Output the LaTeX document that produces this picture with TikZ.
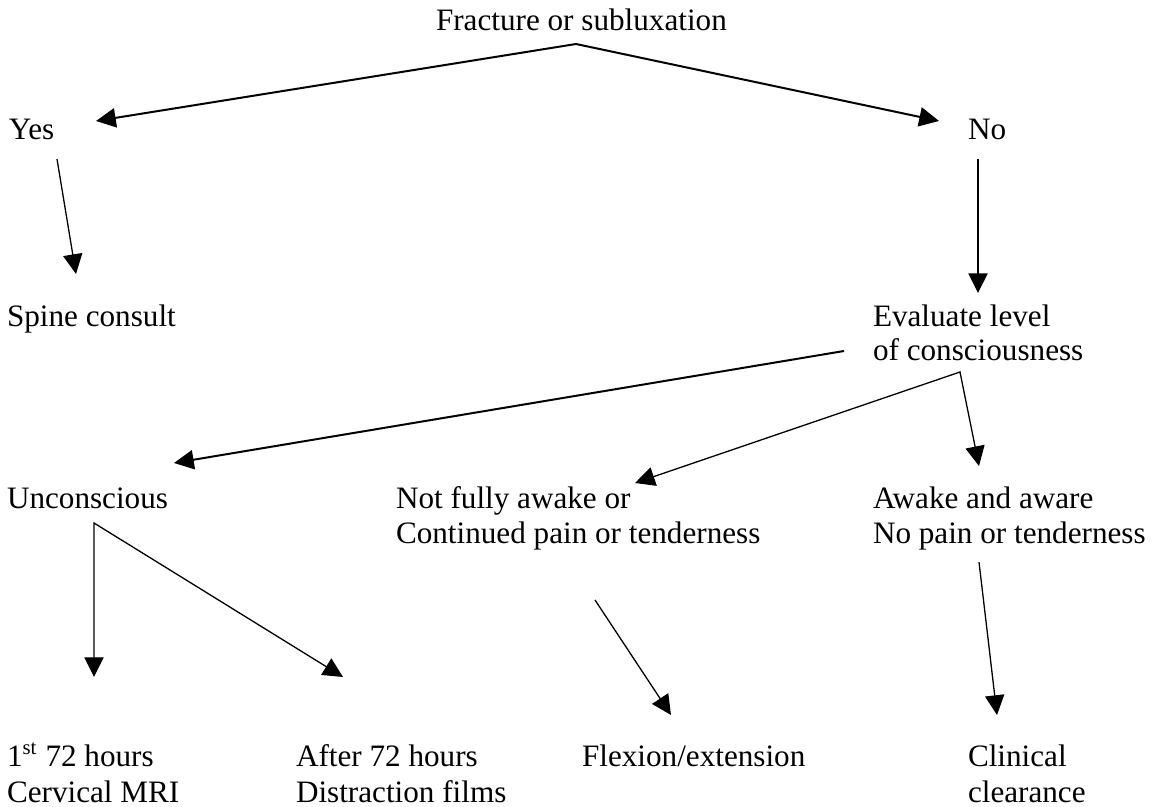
\documentclass[tikz,border=0pt]{standalone}
\usepackage{fontspec}
\setmainfont{Liberation Serif}
\usetikzlibrary{arrows.meta}
\newcommand{\twolines}[3]{\vtop{\baselineskip=#1\lineskiplimit=-10pt\hbox{#2}\hbox{#3}}}
\begin{document}
\begin{tikzpicture}[x=0.385pt,y=-0.385pt,
  lbl/.style={anchor=base west,inner sep=0pt,outer sep=0pt,font=\fontsize{12pt}{14pt}\selectfont},
  thickarrow/.style={line width=0.77pt,-{Triangle[length=7.6pt,width=7.4pt]}},
  thinarrow/.style={line width=0.5pt,-{Triangle[length=7.6pt,width=7.4pt]}},
  thickboth/.style={line width=0.77pt,{Triangle[length=7.6pt,width=7.4pt]}-{Triangle[length=7.6pt,width=7.4pt]}},
  thinboth/.style={line width=0.5pt,{Triangle[length=7.6pt,width=7.4pt]}-{Triangle[length=7.6pt,width=7.4pt]}},
  line join=miter]
\useasboundingbox (0,0) rectangle (1158,807);
\fill[white] (0,0) rectangle (1158,807);

% texts
\node[lbl] (fract) at (436,30) {Fracture or subluxation};
\node[lbl] (yes) at (9,139) {Yes};
\node[lbl] (no) at (968,139) {No};
\node[lbl] (spine) at (7,326) {Spine consult};
\node[lbl] (eval) at (873,326) {\twolines{13.1pt}{Evaluate level}{of consciousness}};
\node[lbl] (uncon) at (7,508) {Unconscious};
\node[lbl] (notfully) at (396,508) {\twolines{13.6pt}{Not fully awake or}{Continued pain or tenderness}};
\node[lbl] (awake) at (873,508) {\twolines{13.6pt}{Awake and aware}{No pain or tenderness}};
\node[lbl] (first) at (7,766) {\twolines{14.2pt}{1\textsuperscript{st} 72 hours}{Cervical MRI}};
\node[lbl] (after) at (296,766) {\twolines{14.2pt}{After 72 hours}{Distraction films}};
\node[lbl] (flex) at (582,766) {Flexion/extension};
\node[lbl] (clin) at (968,766) {\twolines{14.2pt}{Clinical}{clearance}};

% connector end points
\coordinate (apexA) at (576,44);
\coordinate (yesTip) at (96,121);
\coordinate (noTip) at (939,121);
\coordinate (yesFrom) at (57,159);
\coordinate (spineTip) at (76,274);
\coordinate (noFrom) at (978,159);
\coordinate (evalTip) at (978,293);
\coordinate (evalFromL) at (844,351);
\coordinate (unconTip) at (174,463);
\coordinate (apexB) at (960,372);
\coordinate (notfullyTip) at (635,483);
\coordinate (awakeTip) at (979,466);
\coordinate (apexC) at (94,523);
\coordinate (firstTip) at (94,677);
\coordinate (afterTip) at (343,677);
\coordinate (notfullyFrom) at (595,600);
\coordinate (flexTip) at (671,715);
\coordinate (awakeFrom) at (979,562);
\coordinate (clinTip) at (997,715);

% connectors
\draw[thickboth] (yesTip) -- (apexA) -- (noTip);
\draw[thinarrow] (yesFrom) -- (spineTip);
\draw[thickarrow] (noFrom) -- (evalTip);
\draw[thickarrow] (evalFromL) -- (unconTip);
\draw[thinboth] (notfullyTip) -- (apexB) -- (awakeTip);
\draw[thinboth] (firstTip) -- (apexC) -- (afterTip);
\draw[thinarrow] (notfullyFrom) -- (flexTip);
\draw[thinarrow] (awakeFrom) -- (clinTip);
\end{tikzpicture}
\end{document}
